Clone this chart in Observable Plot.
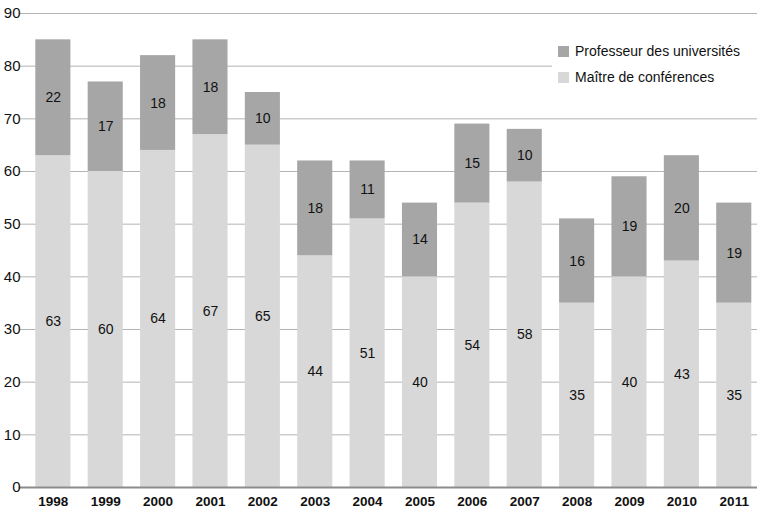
<!DOCTYPE html>
<html>
<head>
<meta charset="utf-8">
<script src="https://cdn.jsdelivr.net/npm/d3@7"></script>
<script src="https://cdn.jsdelivr.net/npm/@observablehq/plot@0.6"></script>
<style>
  html, body { margin: 0; padding: 0; background: #fff; }
  #wrap { position: relative; width: 757px; height: 512px; font-family: "Liberation Sans", Arial, sans-serif; }
  #legend { position: absolute; left: 552px; top: 34px; width: 200px; background: #fff; padding: 4px 0 4px 6px; font-size: 14px; color: #111; }
  .item { display: flex; align-items: center; height: 26px; }
  .sw { width: 11px; height: 11px; margin-right: 6px; }
</style>
</head>
<body>
<div id="wrap"></div>
<script>
const years = ["1998","1999","2000","2001","2002","2003","2004","2005","2006","2007","2008","2009","2010","2011"];
const maitre = [63,60,64,67,65,44,51,40,54,58,35,40,43,35];
const professeur = [22,17,18,18,10,18,11,14,15,10,16,19,20,19];
const seriesNames = ["Maître de conférences", "Professeur des universités"];
const seriesColors = ["#d8d8d8", "#a6a6a6"];
const yTicks = [0,10,20,30,40,50,60,70,80,90];

const rows = [];
years.forEach((y, i) => {
  rows.push({year: y, series: seriesNames[0], value: maitre[i]});
  rows.push({year: y, series: seriesNames[1], value: professeur[i]});
});

const chart = Plot.plot({
  width: 757,
  height: 512,
  marginLeft: 27,
  marginRight: 0,
  marginTop: 13,
  marginBottom: 25,
  style: {fontFamily: "Liberation Sans, Arial, sans-serif", background: "#fff"},
  x: {domain: years, paddingInner: 0.33, paddingOuter: 0, round: false, insetLeft: 8.3, insetRight: 5.7, label: null},
  y: {domain: [0, 90], label: null},
  color: {domain: seriesNames, range: seriesColors},
  marks: [
    Plot.ruleY(yTicks.filter(d => d > 0), {stroke: "#b4b4b4", strokeWidth: 1, insetLeft: -8.3, insetRight: -5.7}),
    Plot.barY(rows, Plot.stackY({x: "year", y: "value", fill: "series", order: seriesNames})),
    Plot.text(rows, Plot.stackY({x: "year", y: "value", z: "series", order: seriesNames, text: "value", fontSize: 14, fill: "#111"})),
    Plot.ruleY([0], {stroke: "#8c8c8c", strokeWidth: 2, insetLeft: -8.3, insetRight: -5.7}),
    Plot.axisY({ticks: yTicks, tickSize: 0, tickPadding: 7, fontSize: 15, label: null, color: "#111"}),
    Plot.axisX({tickSize: 0, tickPadding: 9, fontSize: 13.5, fontWeight: "bold", label: null, color: "#111"})
  ]
});

const wrap = document.getElementById("wrap");
wrap.appendChild(chart);

const legend = document.createElement("div");
legend.id = "legend";
[[seriesNames[1], seriesColors[1]], [seriesNames[0], seriesColors[0]]].forEach(([name, col]) => {
  const it = document.createElement("div");
  it.className = "item";
  const sw = document.createElement("span");
  sw.className = "sw";
  sw.style.background = col;
  const t = document.createElement("span");
  t.textContent = name;
  it.appendChild(sw);
  it.appendChild(t);
  legend.appendChild(it);
});
wrap.appendChild(legend);
</script>
</body>
</html>
